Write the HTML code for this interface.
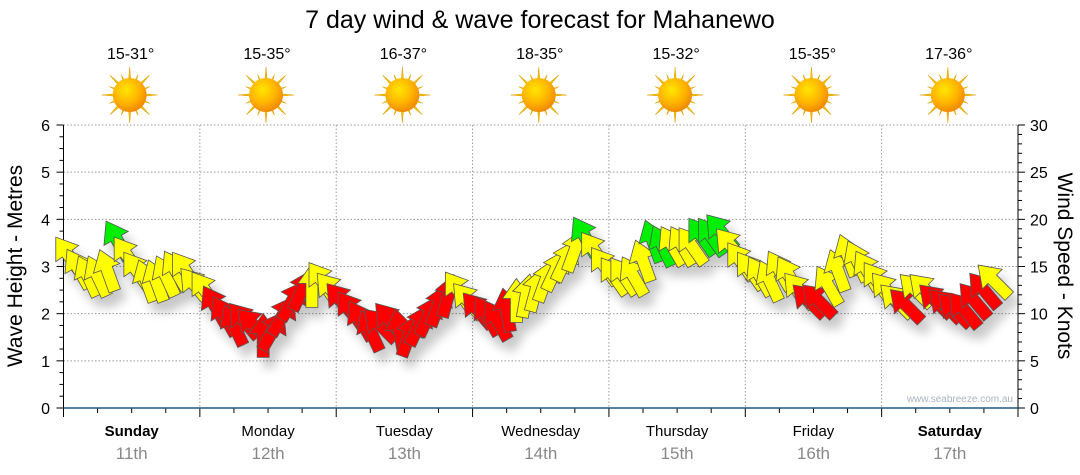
<!DOCTYPE html>
<html><head><meta charset="utf-8"><style>
body{margin:0;background:#fff;}
svg{display:block;font-family:"Liberation Sans","DejaVu Sans",sans-serif;}
</style></head><body>
<svg id="chart" width="1080" height="475" viewBox="0 0 1080 475">
<defs>
<radialGradient id="sunG" cx="40%" cy="35%" r="65%"><stop offset="0" stop-color="#ffe600"/><stop offset="0.6" stop-color="#ffb400"/><stop offset="1" stop-color="#f08a00"/></radialGradient>
<filter id="shadow" x="-50%" y="-50%" width="200%" height="200%"><feGaussianBlur in="SourceAlpha" stdDeviation="5"/><feOffset dx="6" dy="10"/><feComponentTransfer><feFuncA type="linear" slope="0.22"/></feComponentTransfer><feMerge><feMergeNode/><feMergeNode in="SourceGraphic"/></feMerge></filter>
</defs>
<text x="540" y="28" text-anchor="middle" font-size="25" fill="#000">7 day wind &amp; wave forecast for Mahanewo</text>
<g id="grid"></g>
<g id="axes"></g>
<g id="days"></g>
<g id="arrows" filter="url(#shadow)"></g>
<text x="1013" y="402" text-anchor="end" font-size="10" fill="#a9b4c2">www.seabreeze.com.au</text>
<text transform="translate(22,266) rotate(-90)" text-anchor="middle" font-size="21" fill="#000">Wave Height - Metres</text>
<text transform="translate(1058,266) rotate(90)" text-anchor="middle" font-size="21" fill="#000">Wind Speed - Knots</text>
</svg>
<script>
const dayNames=["Sunday","Monday","Tuesday","Wednesday","Thursday","Friday","Saturday"];
const dayDates=["11th","12th","13th","14th","15th","16th","17th"];
const temps=["15-31°","15-35°","16-37°","18-35°","15-32°","15-35°","17-36°"];
const waveTicks=[0,1,2,3,4,5,6];
const windTicks=[0,5,10,15,20,25,30];
// wind speed (knots), 14 readings per day
const windSpeed=[16.2,14.8,14.0,14.0,14.6,17.8,16.2,14.6,13.5,13.5,14.0,14.6,14.6,13.0,
12.5,10.9,9.8,8.8,9.3,8.8,7.7,8.2,9.8,11.4,12.5,13.0,13.5,12.5,
11.4,10.4,9.3,8.2,8.8,9.3,8.2,7.7,8.8,9.8,10.9,11.9,12.5,11.4,
10.4,9.8,9.3,10.4,11.4,11.9,12.5,13.5,14.6,15.6,16.7,18.2,16.7,15.1,
14.0,14.0,14.0,15.6,17.7,17.2,17.2,17.2,17.2,18.2,18.2,18.7,17.2,15.6,
14.6,14.0,13.5,14.6,14.0,12.5,11.4,11.4,13.0,14.6,16.2,15.6,14.6,13.5,
12.5,11.4,10.9,12.5,12.5,11.4,10.9,10.4,10.4,11.4,12.5,13.5];
// arrow heading (degrees, 0 = up, negative = toward left)
const windDir=[-35,-30,-25,-25,-20,-30,-35,-35,-20,-20,-25,-30,-35,-40,
-35,-30,-30,-25,-40,-45,0,30,30,30,25,0,-35,-40,
-40,-35,-30,-25,-45,-40,-10,20,25,25,20,15,-35,-40,
-40,-30,-30,-10,0,10,15,20,25,25,20,-30,-35,-35,
-35,-35,-30,-20,-20,-25,-30,-30,-35,-35,-35,-40,-40,-35,
-35,-30,-25,-30,-30,-40,-45,-45,-30,-20,-20,-25,-30,-35,
-40,-45,-45,-45,-45,-45,-45,-45,-40,-40,-40,-45];
// colour category: Y yellow, R red, G green
const windCol="YYYYYGYYYYYYYY"+"YRRRRRRRRRRYYY"+"RRRRRRRRRRRRYY"+"RRRRYYYYYYYGYY"+"YYYYGGYYYGGGYY"+"YYYYYYRRYYYYYY"+"YYRYYRRRRRRYYY";
const NS="http://www.w3.org/2000/svg";
const X0=63.5,X1=1018,YT=125,YB=408;
const DW=(X1-X0)/7, PER=14;
const xDay=d=>X0+d*DW;
const yWave=m=>YB-(m/6)*(YB-YT);
const yWind=k=>YB-(k/30)*(YB-YT);
const xIdx=i=>X0+(i+0.5)*DW/PER;
function mk(tag,attrs,parent){const e=document.createElementNS(NS,tag);for(const k in attrs)e.setAttribute(k,attrs[k]);parent.appendChild(e);return e;}
const grid=document.getElementById('grid'),axes=document.getElementById('axes'),days=document.getElementById('days'),arrows=document.getElementById('arrows');
waveTicks.forEach(m=>{
 if(m>0){const g=mk('line',{x1:X0,x2:X1,y1:yWave(m),y2:yWave(m),stroke:'#999','stroke-dasharray':'1.5,2','stroke-width':1},grid);
 
 }
 const t=mk('text',{x:50,y:yWave(m)+6,'text-anchor':'end','font-size':16,fill:'#000'},axes);t.textContent=m;
 
 
});
for(let q=0;q<=24;q++){const y=YB-q*(YB-YT)/24;mk('line',{x1:q%4?X0-4:X0-7,x2:X0,y1:y,y2:y,stroke:'#000'},axes);}
for(let k=0;k<=30;k++){const y=yWind(k);mk('line',{x1:X1,x2:k%5?X1+4:X1+7,y1:y,y2:y,stroke:'#000'},axes);}
windTicks.forEach(k=>{const t=mk('text',{x:1030,y:yWind(k)+6,'font-size':16,fill:'#000'},axes);t.textContent=k;
 
 });
mk('line',{x1:X0,x2:X0,y1:YT,y2:YB,stroke:'#000'},axes);
mk('line',{x1:X1,x2:X1,y1:YT,y2:YB,stroke:'#000'},axes);
for(let q=0;q<=28;q++){const x=X0+q*DW/4;mk('line',{x1:x,x2:x,y1:YB,y2:YB+(q%4?5:9),stroke:'#000'},axes);}
mk('line',{x1:X0,x2:X1,y1:YB,y2:YB,stroke:'#1f5a85','stroke-width':1.5},axes);
dayNames.forEach((n,d)=>{
 if(d>0){const g=mk('line',{x1:xDay(d),x2:xDay(d),y1:YT,y2:YB,stroke:'#999','stroke-dasharray':'1.5,2'},grid);
 
 }
 const cx=xDay(d+0.5);
 const t1=mk('text',{x:cx,y:436,'text-anchor':'middle','font-size':15,fill:'#000','font-weight':(d==0||d==6)?'bold':'normal'},days);t1.textContent=n;
 
 
 const t2=mk('text',{x:cx,y:459,'text-anchor':'middle','font-size':17,fill:'#888'},days);t2.textContent=dayDates[d];
 
 
 const t3=mk('text',{x:cx-1,y:59,'text-anchor':'middle','font-size':16,fill:'#000'},days);t3.textContent=temps[d];
 
 
 const s=mk('g',{transform:`translate(${cx-2},95)`},days);
 
 
 for(let r=0;r<16;r++){const a=r*22.5,L=r%2?22:28;mk('polygon',{points:`-2.5,0 0,${-L} 2.5,0`,fill:'#f2c200',stroke:'#e0a000','stroke-width':0.5,transform:`rotate(${a})`},s);}
 mk('circle',{r:17,fill:'url(#sunG)'},s);
});
const fills={Y:'#ffff00',R:'#ff0000',G:'#00ee00'};
windSpeed.forEach((v,i)=>{
 const x=xIdx(i),y=yWind(v);
 const p=mk('polygon',{points:'-6,22 6,22 6,-2 14,-2 0,-22 -14,-2 -6,-2',fill:fills[windCol[i]],stroke:'#555','stroke-width':0.8,transform:`translate(${x.toFixed(1)},${y.toFixed(1)}) rotate(${windDir[i]})`},arrows);
 
 
});
</script>
</body></html>
